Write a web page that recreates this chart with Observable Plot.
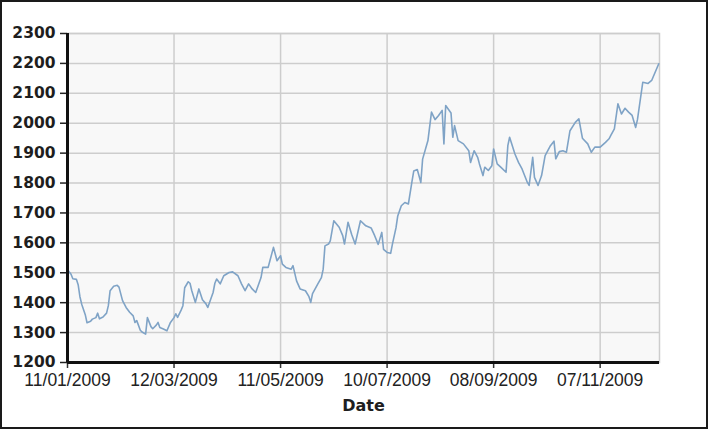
<!DOCTYPE html>
<html>
<head>
<meta charset="utf-8">
<script src="https://cdn.jsdelivr.net/npm/d3@7"></script>
<script src="https://cdn.jsdelivr.net/npm/@observablehq/plot@0.6"></script>
<style>
  html, body { margin: 0; padding: 0; background: #fff; }
  #wrap { position: relative; width: 713px; height: 430px; overflow: hidden; }
  #wrap svg { position: absolute; left: 0; top: 0; }
  #border { position: absolute; left: 0; top: 0; width: 704px; height: 425px; border: 2px solid #1a1a1a; pointer-events: none; }
</style>
</head>
<body>
<div id="wrap"><div id="border"></div></div>
<script>
const dates = [
  "2009-01-11","2009-01-13","2009-01-14","2009-01-16","2009-01-17","2009-01-18","2009-01-19","2009-01-21","2009-01-22","2009-01-24",
  "2009-01-25","2009-01-27","2009-01-28","2009-01-29","2009-01-31","2009-02-02","2009-02-03","2009-02-04","2009-02-06","2009-02-08",
  "2009-02-09","2009-02-11","2009-02-13","2009-02-15","2009-02-17","2009-02-18","2009-02-19","2009-02-21","2009-02-22","2009-02-24",
  "2009-02-25","2009-02-27","2009-02-28","2009-03-02","2009-03-03","2009-03-04","2009-03-06","2009-03-08","2009-03-10","2009-03-12",
  "2009-03-13","2009-03-14","2009-03-16","2009-03-17","2009-03-18","2009-03-20","2009-03-21","2009-03-22","2009-03-24","2009-03-26",
  "2009-03-28","2009-03-30","2009-03-31","2009-04-03","2009-04-04","2009-04-05","2009-04-07","2009-04-09","2009-04-12","2009-04-14",
  "2009-04-17","2009-04-19","2009-04-21","2009-04-23","2009-04-25","2009-04-27","2009-04-30","2009-05-01","2009-05-04","2009-05-05",
  "2009-05-07","2009-05-08","2009-05-09","2009-05-11","2009-05-12","2009-05-14","2009-05-17","2009-05-18","2009-05-20","2009-05-22",
  "2009-05-25","2009-05-27","2009-05-28","2009-05-29","2009-06-01","2009-06-03","2009-06-04","2009-06-05","2009-06-07","2009-06-08",
  "2009-06-10","2009-06-13","2009-06-15","2009-06-16","2009-06-18","2009-06-20","2009-06-22","2009-06-25","2009-06-28","2009-07-01",
  "2009-07-03","2009-07-05","2009-07-07","2009-07-08","2009-07-10","2009-07-12","2009-07-13","2009-07-15","2009-07-16","2009-07-18",
  "2009-07-20","2009-07-22","2009-07-24","2009-07-25","2009-07-27","2009-07-29","2009-07-30","2009-08-02","2009-08-04","2009-08-06",
  "2009-08-08","2009-08-10","2009-08-11","2009-08-12","2009-08-15","2009-08-16","2009-08-17","2009-08-19","2009-08-22","2009-08-25",
  "2009-08-26","2009-08-28","2009-08-30","2009-08-31","2009-09-02","2009-09-03","2009-09-05","2009-09-07","2009-09-08","2009-09-10",
  "2009-09-12","2009-09-15","2009-09-16","2009-09-17","2009-09-20","2009-09-22","2009-09-24","2009-09-27","2009-09-28","2009-09-30",
  "2009-10-01","2009-10-03","2009-10-05","2009-10-07","2009-10-10","2009-10-12","2009-10-13","2009-10-15","2009-10-17","2009-10-19",
  "2009-10-21","2009-10-24","2009-10-26","2009-10-28","2009-10-31","2009-11-02","2009-11-04","2009-11-07","2009-11-10","2009-11-12",
  "2009-11-13","2009-11-15","2009-11-17","2009-11-19","2009-11-21","2009-11-23","2009-11-25","2009-11-27","2009-11-28","2009-12-01",
  "2009-12-04","2009-12-06","2009-12-10"
];
const values = [
  1510,1495,1480,1478,1460,1420,1395,1360,1333,1338,
  1345,1350,1365,1346,1352,1365,1390,1440,1455,1458,
  1452,1407,1384,1368,1356,1334,1340,1308,1302,1295,
  1350,1320,1313,1325,1334,1317,1312,1306,1334,1350,
  1363,1351,1375,1390,1450,1470,1465,1440,1401,1446,
  1410,1396,1384,1434,1465,1479,1463,1490,1501,1503,
  1490,1463,1440,1463,1446,1434,1484,1518,1518,1540,
  1585,1563,1540,1557,1529,1518,1512,1524,1473,1446,
  1440,1420,1401,1430,1463,1484,1512,1590,1596,1607,
  1674,1652,1624,1596,1669,1629,1596,1674,1657,1650,
  1624,1595,1635,1578,1568,1565,1596,1650,1690,1724,
  1735,1730,1805,1840,1845,1802,1880,1942,2037,2012,
  2026,2043,1931,2059,2034,1953,1992,1942,1931,1908,
  1869,1908,1886,1864,1825,1853,1842,1858,1914,1864,
  1853,1836,1925,1953,1897,1869,1847,1802,1792,1886,
  1819,1792,1825,1892,1925,1940,1881,1905,1908,1903,
  1975,2003,2015,1950,1931,1903,1920,1920,1936,1948,
  1959,1981,2065,2031,2050,2037,2026,1986,2012,2137,
  2133,2143,2199
];
const xTicks = ["2009-01-11","2009-03-12","2009-05-11","2009-07-10","2009-09-08","2009-11-07"];
const yTicks = [1200,1300,1400,1500,1600,1700,1800,1900,2000,2100,2200,2300];
const xDomain = ["2009-01-11","2009-12-10T10:00"];
const yDomain = [1200, 2300];
const xTitle = "Date";

const n = Math.min(dates.length, values.length);
const data = d3.range(n).map(i => ({date: new Date(dates[i]), value: values[i]}));
const fmt = d3.utcFormat("%d/%m/%Y");

const chart = Plot.plot({
  width: 713,
  height: 430,
  marginLeft: 67,
  marginRight: 54,
  marginTop: 33,
  marginBottom: 68,
  style: {fontFamily: "DejaVu Sans", background: "transparent"},
  x: {type: "utc", domain: xDomain.map(d => new Date(d))},
  y: {domain: yDomain},
  marks: [
    Plot.frame({fill: "#f8f8f8", stroke: "#cdcdcd", strokeWidth: 1.5}),
    Plot.gridY(yTicks, {stroke: "#cdcdcd", strokeOpacity: 1, strokeWidth: 1.5}),
    Plot.gridX(xTicks.map(d => new Date(d)), {stroke: "#cdcdcd", strokeOpacity: 1, strokeWidth: 1.5}),
    Plot.axisY(yTicks, {tickSize: 7, tickPadding: 5, fontSize: 15.5, fontWeight: "bold", fill: "#1e1e1e", stroke: "#222", strokeWidth: 1.5, tickFormat: d => String(d), label: null}),
    Plot.axisX(xTicks.map(d => new Date(d)), {tickSize: 6, tickPadding: 5, fontSize: 17.5, fontFamily: "Liberation Sans", fill: "#222", stroke: "#333", strokeWidth: 1.5, tickFormat: fmt, label: null}),
    Plot.line(data, {x: "date", y: "value", stroke: "#7fa3c6", strokeWidth: 1.6}),
    Plot.ruleX([xDomain[0]].map(d => new Date(d)), {stroke: "#111", strokeWidth: 3}),
    Plot.ruleY([yDomain[0]], {stroke: "#111", strokeWidth: 3}),
    Plot.text([xTitle], {frameAnchor: "bottom", dy: 48, fontSize: 16, fontWeight: "bold", fill: "#1e1e1e"})
  ]
});
document.getElementById("wrap").prepend(chart);
</script>
</body>
</html>
